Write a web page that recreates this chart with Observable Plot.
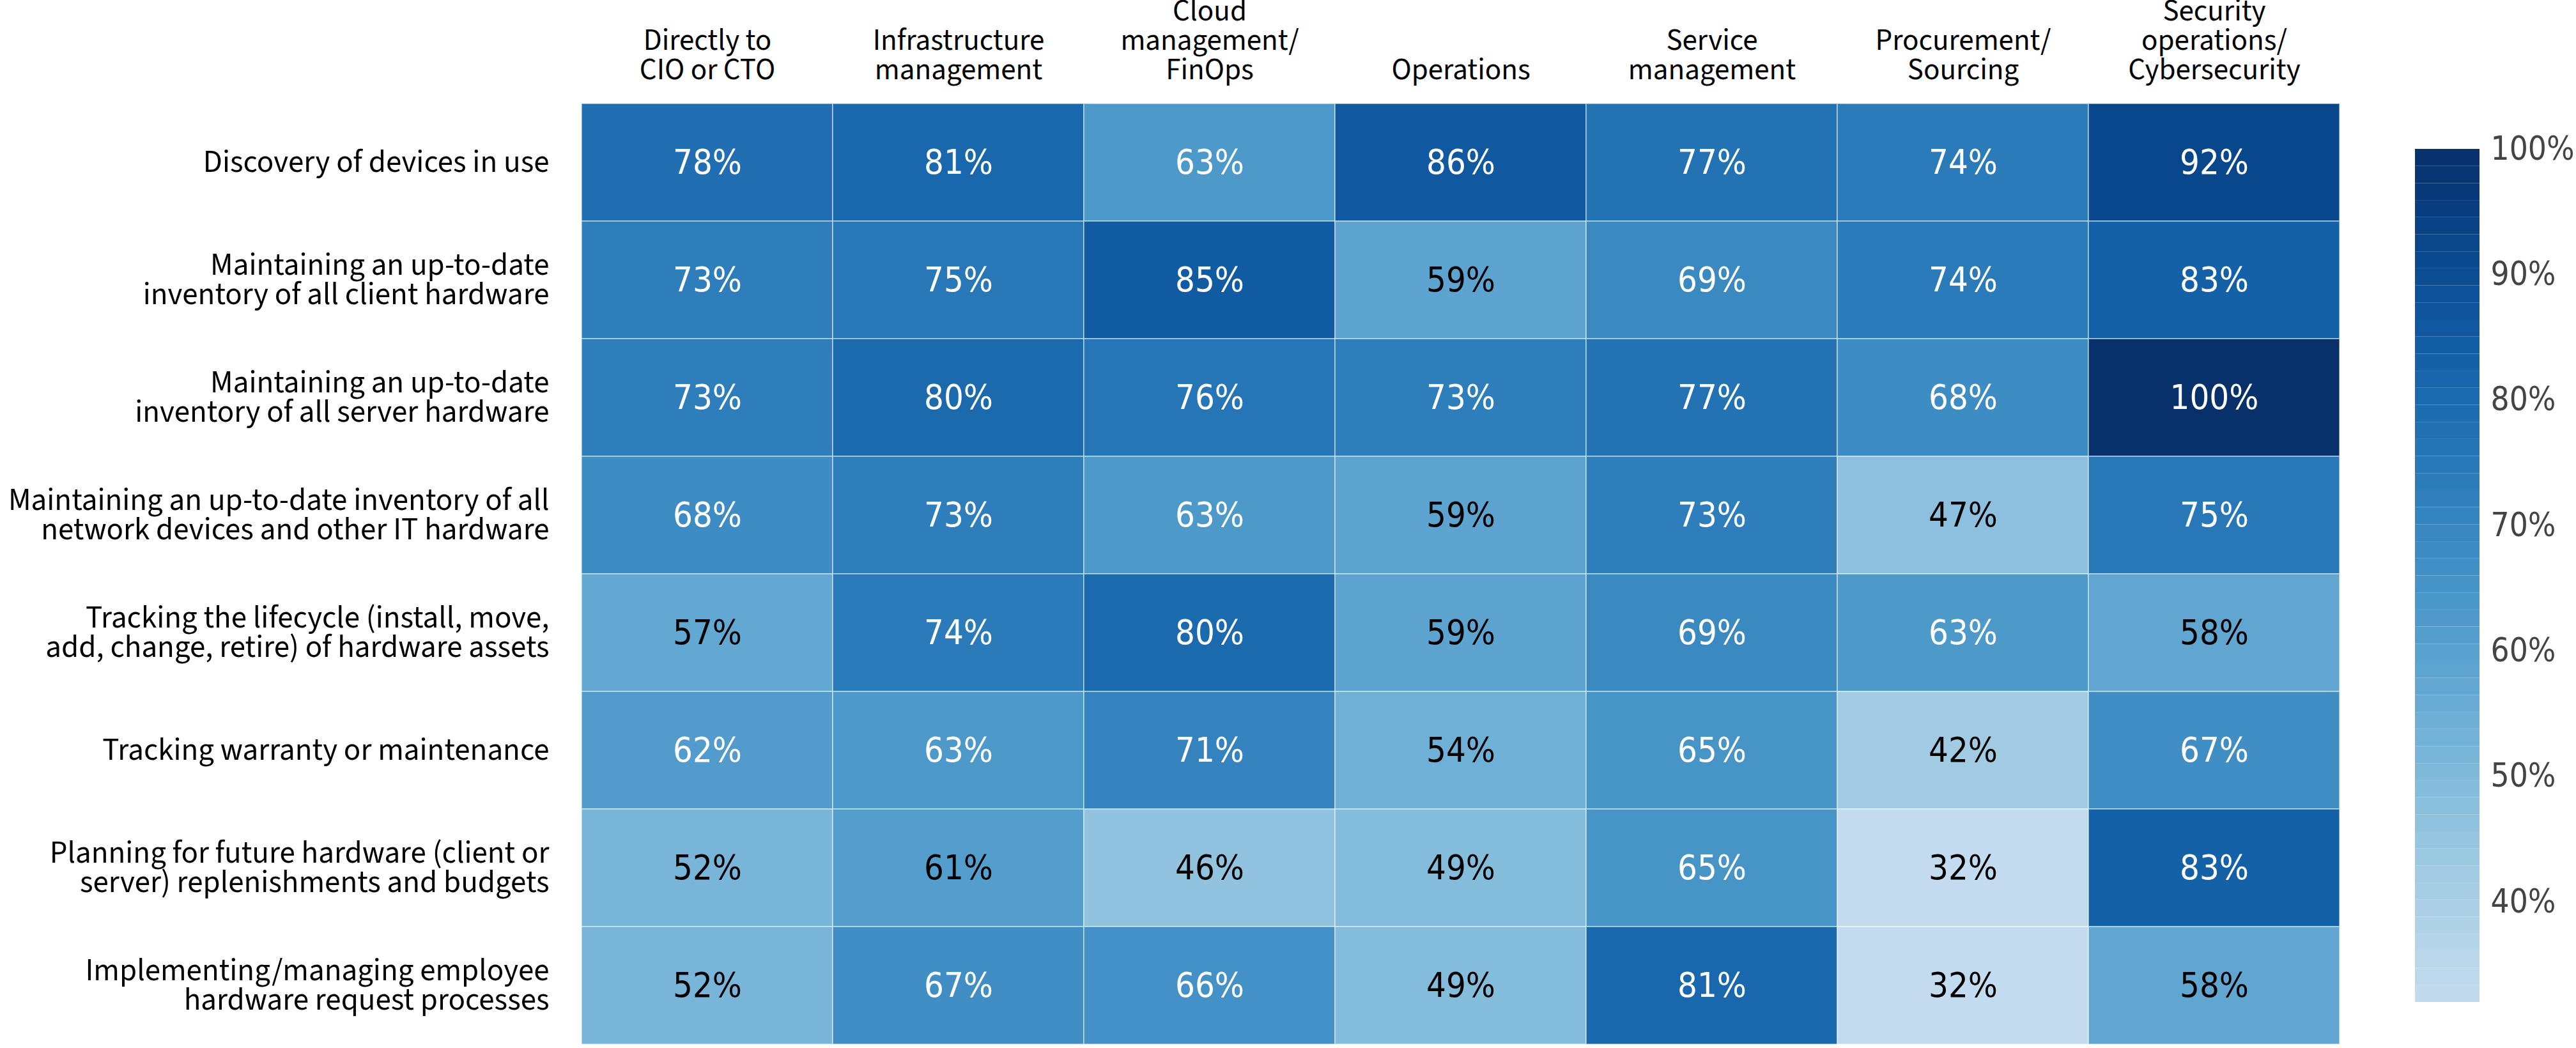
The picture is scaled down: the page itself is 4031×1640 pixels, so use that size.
<!DOCTYPE html>
<html>
<head>
<meta charset="utf-8">
<script src="https://cdn.jsdelivr.net/npm/d3@7"></script>
<script src="https://cdn.jsdelivr.net/npm/@observablehq/plot@0.6"></script>
<style>
  html, body { margin: 0; padding: 0; background: #fff; }
  #chart { display: flex; flex-direction: row; align-items: flex-start; width: 4031px; height: 1640px; }
</style>
</head>
<body>
<div id="chart"></div>
<script>
// Reporting lines (columns)
const functions = [
  "Directly to\nCIO or CTO",
  "Infrastructure\nmanagement",
  "Cloud\nmanagement/\nFinOps",
  "Operations",
  "Service\nmanagement",
  "Procurement/\nSourcing",
  "Security\noperations/\nCybersecurity"
];

// Hardware asset management activities (rows)
const activities = [
  "Discovery of devices in use",
  "Maintaining an up-to-date\ninventory of all client hardware",
  "Maintaining an up-to-date\ninventory of all server hardware",
  "Maintaining an up-to-date inventory of all\nnetwork devices and other IT hardware",
  "Tracking the lifecycle (install, move,\nadd, change, retire) of hardware assets",
  "Tracking warranty or maintenance",
  "Planning for future hardware (client or\nserver) replenishments and budgets",
  "Implementing/managing employee\nhardware request processes"
];

// Share of respondents (%) per reporting line, in activity order
const directCio      = [78, 73, 73, 68, 57, 62, 52, 52];
const infrastructure = [81, 75, 80, 73, 74, 63, 61, 67];
const cloudFinOps    = [63, 85, 76, 63, 80, 71, 46, 66];
const operations     = [86, 59, 73, 59, 59, 54, 49, 49];
const serviceMgmt    = [77, 69, 77, 73, 69, 65, 65, 81];
const procurement    = [74, 74, 68, 47, 63, 42, 32, 32];
const security       = [92, 83, 100, 75, 58, 67, 83, 58];

const legendTicks = [40, 50, 60, 70, 80, 90, 100];

const series = [directCio, infrastructure, cloudFinOps, operations, serviceMgmt, procurement, security];
const cells = series.flatMap((vals, j) =>
  vals.map((v, i) => ({fn: functions[j], activity: activities[i], value: v}))
);

const vmin = d3.min(cells, d => d.value);
const vmax = d3.max(cells, d => d.value);
const blues = t => d3.interpolateBlues(0.25 + 0.75 * t);
const colorScale = {type: "linear", domain: [vmin, vmax], interpolate: blues};

const labelFont = "'Source Sans Pro', 'Source Sans 3', Lato, sans-serif";
const numberFont = "'DejaVu Sans Condensed', 'DejaVu Sans', sans-serif";

const heatmap = Plot.plot({
  width: 3720,
  height: 1640,
  marginLeft: 909,
  marginRight: 59,
  marginTop: 159,
  marginBottom: 4,
  style: {fontFamily: labelFont, background: "#fff", color: "#000"},
  x: {domain: functions, padding: 0},
  y: {domain: activities, padding: 0},
  color: colorScale,
  marks: [
    Plot.cell(cells, {
      x: "fn", y: "activity", fill: "value",
      stroke: "#fff", strokeOpacity: 0.45, strokeWidth: 2
    }),
    Plot.text(cells, {
      x: "fn", y: "activity",
      text: d => `${d.value}%`,
      fill: d => d.value >= 62 ? "#fff" : "#000",
      fontSize: 54,
      fontFamily: numberFont
    }),
    Plot.axisX({
      anchor: "top", tickSize: 0, tickPadding: 36, label: null,
      fontSize: 47, lineHeight: 0.97, lineAnchor: "bottom", fill: "#000"
    }),
    Plot.axisY({
      anchor: "left", tickSize: 0, tickPadding: 50, label: null,
      fontSize: 49, lineHeight: 0.94, textAnchor: "end", fill: "#000"
    })
  ]
});

// Vertical colour bar sharing the heatmap's colour scale
const steps = 50;
const bands = d3.range(steps).map(k => ({
  lo: vmin + (vmax - vmin) * k / steps,
  hi: vmin + (vmax - vmin) * (k + 1) / steps
}));

const colorbar = Plot.plot({
  width: 311,
  height: 1640,
  marginLeft: 59,
  marginRight: 151,
  marginTop: 233,
  marginBottom: 72,
  style: {fontFamily: numberFont, background: "#fff"},
  y: {domain: [vmin, vmax]},
  color: colorScale,
  marks: [
    Plot.rectY(bands, {y1: "lo", y2: "hi", fill: d => (d.lo + d.hi) / 2}),
    Plot.axisY({
      anchor: "right", ticks: legendTicks, tickSize: 0, tickPadding: 17,
      tickFormat: d => `${d}%`, label: null, fontSize: 51, fill: "#444"
    })
  ]
});

const root = document.getElementById("chart");
root.append(heatmap, colorbar);
</script>
</body>
</html>
